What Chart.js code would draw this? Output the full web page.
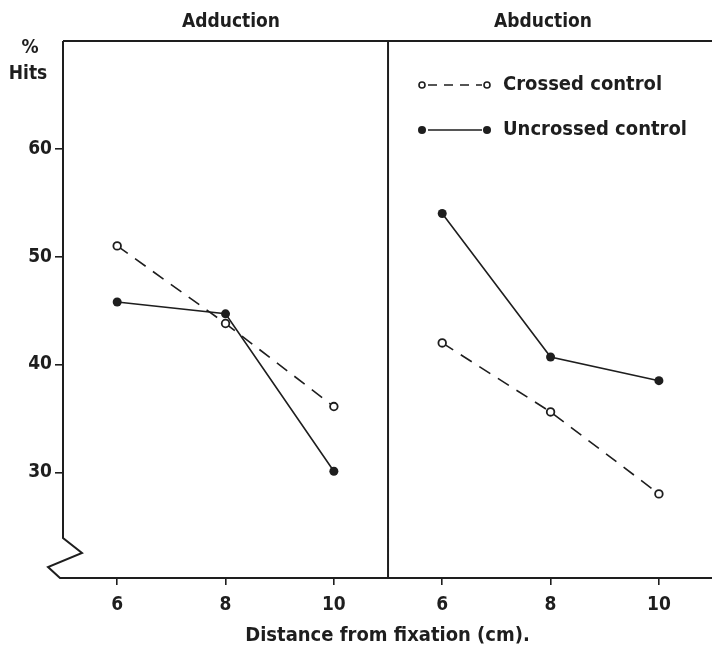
<!DOCTYPE html>
<html>
<head>
<meta charset="utf-8">
<script src="https://cdn.jsdelivr.net/npm/chart.js@4.4.1/dist/chart.umd.min.js"></script>
<style>
  html, body { margin: 0; padding: 0; background: #fff; overflow: hidden; }
</style>
</head>
<body>
<canvas id="hitsChart" width="712" height="648"></canvas>
<script>
// values
const distances = [6, 8, 10];
const yTicks = [30, 40, 50, 60];
const panelTitles = ['Adduction', 'Abduction'];
const seriesNames = ['Crossed control', 'Uncrossed control'];
const crossedAdduction = [51.0, 43.8, 36.1];
const uncrossedAdduction = [45.8, 44.7, 30.1];
const crossedAbduction = [42.0, 35.6, 28.0];
const uncrossedAbduction = [54.0, 40.7, 38.5];

// second panel is shifted along the same x axis
const panelShift = 6;
const ink = '#1e1e1e';
const font = "'DejaVu Sans Condensed', 'Liberation Sans Narrow', 'DejaVu Sans', sans-serif";

function toPoints(values, shift) {
    return distances.map((d, i) => ({ x: d + shift, y: values[i] }));
}

function makeSet(label, values, shift, crossed) {
    return {
        label: label,
        data: toPoints(values, shift),
        borderColor: ink,
        borderWidth: 1.6,
        borderDash: crossed ? [13, 9] : [],
        pointRadius: crossed ? 3.8 : 4.5,
        pointBorderWidth: crossed ? 1.8 : 0,
        pointBackgroundColor: crossed ? '#fff' : ink,
        pointBorderColor: ink,
        fill: false,
        tension: 0
    };
}

const framePlugin = {
    id: 'frame',
    afterDraw(chart) {
        const { ctx, chartArea: a, scales: { x } } = chart;
        const mid = x.getPixelForValue(11);
        ctx.save();
        ctx.strokeStyle = ink;
        ctx.lineWidth = 2;
        ctx.beginPath();
        ctx.moveTo(a.left, a.top);
        ctx.lineTo(a.right, a.top);
        // y axis with the break near the bottom
        ctx.moveTo(a.left, a.top);
        ctx.lineTo(a.left, a.bottom - 40);
        ctx.lineTo(a.left + 19, a.bottom - 25);
        ctx.lineTo(a.left - 15, a.bottom - 11);
        ctx.lineTo(a.left - 3, a.bottom);
        ctx.lineTo(a.right, a.bottom);
        // panel divider
        ctx.moveTo(mid, a.top);
        ctx.lineTo(mid, a.bottom);
        ctx.stroke();

        ctx.fillStyle = ink;
        ctx.font = 'bold 19px ' + font;
        ctx.textAlign = 'center';
        ctx.textBaseline = 'middle';
        ctx.fillText(panelTitles[0], 231, 22);
        ctx.fillText(panelTitles[1], 543, 22);
        ctx.fillText('%', 30, 48);
        ctx.fillText('Hits', 28, 74);

        // legend
        ctx.font = 'bold 20px ' + font;
        const rows = [{ y: 85, crossed: true }, { y: 130, crossed: false }];
        rows.forEach((r, i) => {
            ctx.lineWidth = 1.6;
            ctx.setLineDash(r.crossed ? [9, 7] : []);
            ctx.beginPath();
            ctx.moveTo(428, r.y);
            ctx.lineTo(482, r.y);
            ctx.stroke();
            ctx.setLineDash([]);
            [422, 487].forEach(px => {
                ctx.beginPath();
                ctx.arc(px, r.y, r.crossed ? 3 : 4, 0, Math.PI * 2);
                if (r.crossed) {
                    ctx.fillStyle = '#fff';
                    ctx.fill();
                    ctx.lineWidth = 1.6;
                    ctx.stroke();
                } else {
                    ctx.fillStyle = ink;
                    ctx.fill();
                }
            });
            ctx.fillStyle = ink;
            ctx.textAlign = 'left';
            ctx.fillText(seriesNames[i], 503, r.y);
        });
        ctx.restore();
    }
};

const ctx = document.getElementById('hitsChart').getContext('2d');
new Chart(ctx, {
    type: 'line',
    data: {
        datasets: [
            makeSet(seriesNames[0], crossedAdduction, 0, true),
            makeSet(seriesNames[1], uncrossedAdduction, 0, false),
            makeSet(seriesNames[0], crossedAbduction, panelShift, true),
            makeSet(seriesNames[1], uncrossedAbduction, panelShift, false)
        ]
    },
    options: {
        responsive: false,
        animation: false,
        layout: { autoPadding: false, padding: { top: 41, right: 0, left: 0, bottom: 0 } },
        plugins: {
            legend: { display: false },
            tooltip: { enabled: false }
        },
        scales: {
            x: {
                type: 'linear',
                min: 5,
                max: 16.98,
                afterBuildTicks: s => {
                    s.ticks = distances.concat(distances.map(d => d + panelShift)).map(v => ({ value: v }));
                },
                afterFit: s => {
                    s.height = 70;
                    s.paddingLeft = 0;
                    s.paddingRight = 0;
                },
                border: { display: false },
                grid: { drawOnChartArea: false, tickLength: 7, color: ink, lineWidth: 1.6 },
                ticks: {
                    color: ink,
                    font: { family: font, size: 19, weight: 'bold' },
                    padding: 9,
                    maxRotation: 0,
                    callback: v => (v > 11 ? v - panelShift : v)
                },
                title: {
                    display: true,
                    text: 'Distance from fixation (cm).',
                    color: ink,
                    font: { family: font, size: 20, weight: 'bold' },
                    padding: { top: 0, bottom: 0 }
                }
            },
            y: {
                min: 20.2,
                max: 70,
                afterBuildTicks: s => { s.ticks = yTicks.map(v => ({ value: v })); },
                afterFit: s => { s.width = 63; },
                border: { display: false },
                grid: { drawOnChartArea: false, tickLength: 8, color: ink, lineWidth: 1.6 },
                ticks: {
                    color: ink,
                    font: { family: font, size: 19, weight: 'bold' },
                    padding: 3
                }
            }
        }
    },
    plugins: [framePlugin]
});
</script>
</body>
</html>
